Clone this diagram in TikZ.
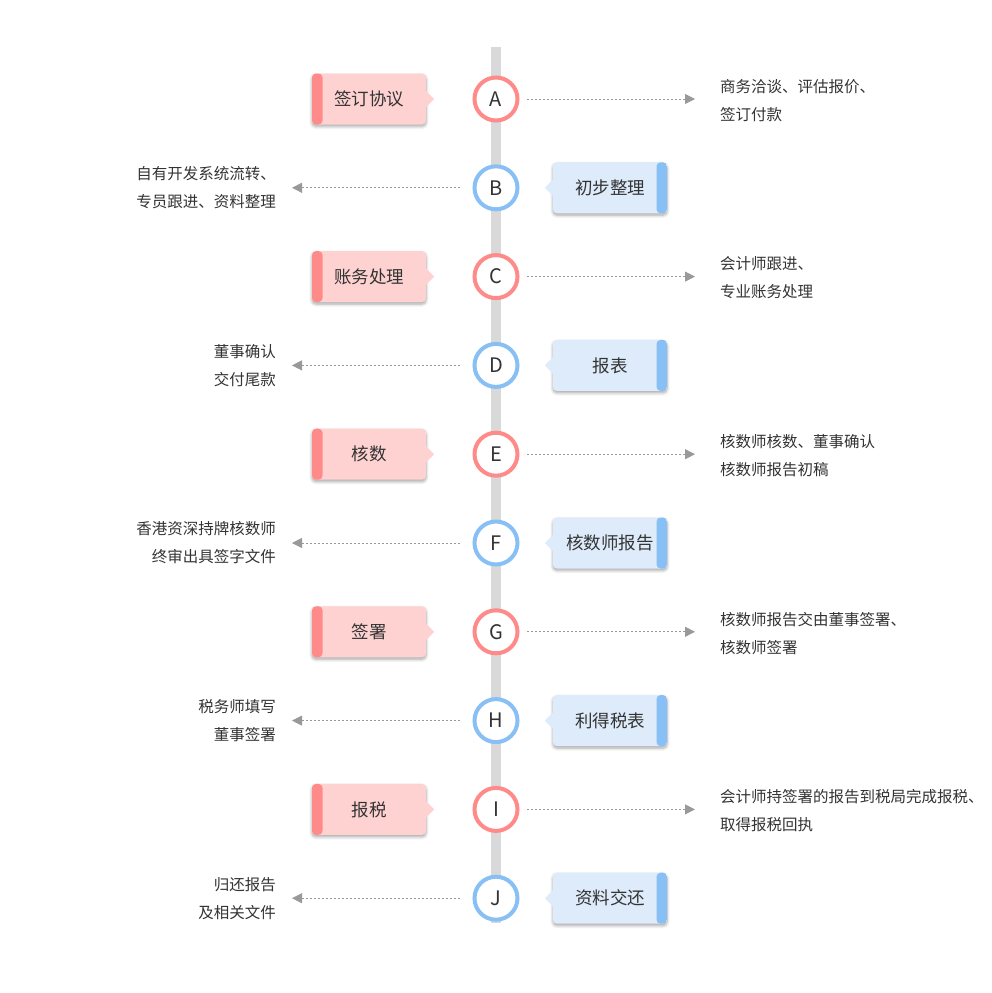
\documentclass[tikz,border=0pt]{standalone}
\usepackage{fontspec}
\setmainfont{Noto Sans CJK SC}
\usetikzlibrary{arrows.meta,shadows.blur}
\definecolor{pinkring}{HTML}{FF8A8A}
\definecolor{pinkfill}{HTML}{FFD2D2}
\definecolor{bluering}{HTML}{88C0F5}
\definecolor{bluefill}{HTML}{DDEBFA}
\definecolor{bargray}{HTML}{D9D9D9}
\definecolor{textgray}{HTML}{333333}
\definecolor{arrowgray}{HTML}{999999}
\begin{document}
\begin{tikzpicture}
[x=1pt,y=-1pt,
  circledecorate/.style={shape=circle,minimum size=43pt,inner sep=0pt,line width=4pt,fill=white,text=textgray,font=\fontsize{20}{24}\selectfont},%
  boxdecorate/.style={shape=rectangle,rounded corners=4pt,minimum width=114pt,minimum height=51pt,inner sep=0pt,text=textgray,font=\fontsize{17.5}{20}\selectfont,blur shadow={shadow xshift=0pt,shadow yshift=-2pt,shadow blur radius=3pt,shadow blur steps=6,shadow opacity=35}},%
  notedecorate/.style={inner sep=0pt,text=textgray,font=\fontsize{15.5}{28}\selectfont},%
  linedecorate/.style={draw=arrowgray,line width=.8pt,dash pattern=on 2pt off 2pt,-{Triangle[length=10pt,width=10pt]}}]
\useasboundingbox (0,0) rectangle (992,993);
%% time line
\fill[bargray] (491,47) rectangle (501,923);
%% steps with the box on the left
\foreach \nodename/\y/\boxtext/\notetext in {A/99/签订协议/{商务洽谈、评估报价、\\签订付款},
  C/276.6/账务处理/{会计师跟进、\\专业账务处理}, E/454.2/核数/{核数师核数、董事确认\\核数师报告初稿},
  G/631.8/签署/{核数师报告交由董事签署、\\核数师签署}, I/809.4/报税/{会计师持签署的报告到税局完成报税、\\取得报税回执}} {
  \node (c\nodename) at (496,\y) [circledecorate,draw=pinkring] {\nodename};
  \node (b\nodename) at (369,\y) [boxdecorate,fill=pinkfill,
    path picture={\fill[pinkring] (path picture bounding box.north west) rectangle ([xshift=10.5pt]path picture bounding box.south west);}] {\boxtext};
  \fill[pinkfill] ([yshift=8pt]b\nodename.east) -- ++(8,8) -- ++(-8,8) -- cycle;
  \node (r\nodename) at (720,\y) [notedecorate,anchor=west,align=left,yshift=-1.5pt] {\notetext};
  \draw[linedecorate,shorten <=7.5pt,shorten >=25pt] (c\nodename) -- (r\nodename.west |- c\nodename);
}
%% steps with the box on the right
\foreach \nodename/\y/\boxtext/\notetext in {B/187.8/初步整理/{自有开发系统流转、\\专员跟进、资料整理},
  D/365.4/报表/{董事确认\\交付尾款}, F/543/核数师报告/{香港资深持牌核数师\\终审出具签字文件},
  H/720.6/利得税表/{税务师填写\\董事签署}, J/898.2/资料交还/{归还报告\\及相关文件}} {
  \node (c\nodename) at (496,\y) [circledecorate,draw=bluering] {\nodename};
  \node (b\nodename) at (610,\y) [boxdecorate,fill=bluefill,
    path picture={\fill[bluering] ([xshift=-10.5pt]path picture bounding box.north east) rectangle (path picture bounding box.south east);}] {\boxtext};
  \fill[bluefill] ([yshift=8pt]b\nodename.west) -- ++(-8,8) -- ++(8,8) -- cycle;
  \node (l\nodename) at (276,\y) [notedecorate,anchor=east,align=right] {\notetext};
  \draw[linedecorate,shorten <=12.5pt,shorten >=16pt] (c\nodename) -- (l\nodename);
}
\end{tikzpicture}
\end{document}
